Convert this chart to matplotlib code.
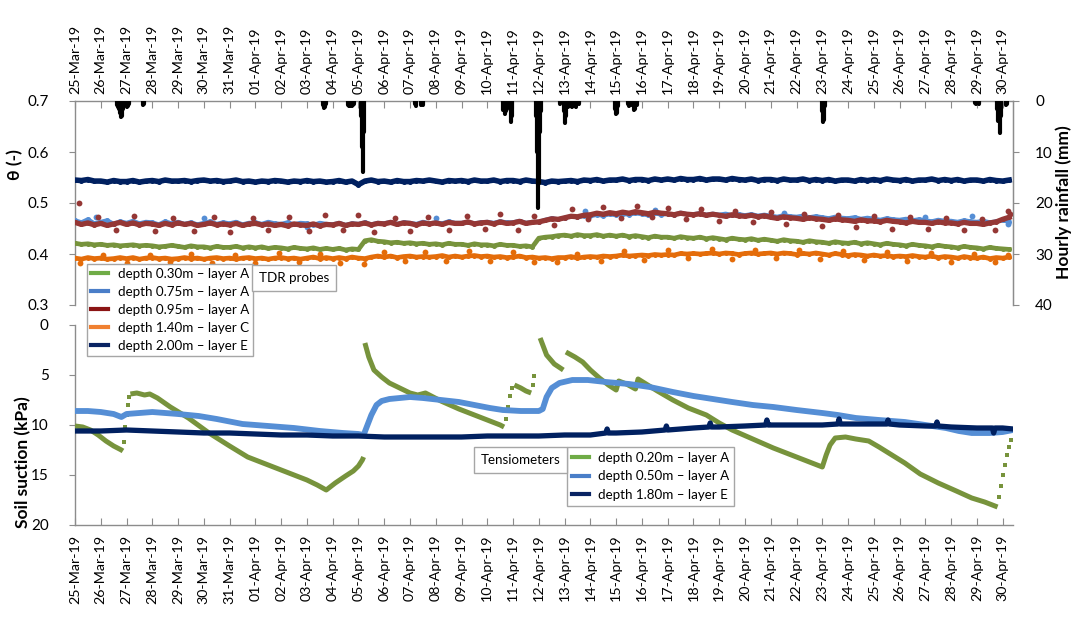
import matplotlib
matplotlib.use('Agg')
import matplotlib.pyplot as plt
import matplotlib.dates as mdates
from matplotlib.lines import Line2D
import numpy as np
import datetime as dt

plt.rcParams['font.family'] = ['Lato', 'DejaVu Sans']

# ---------------- data ----------------
start_date = dt.datetime(2019, 3, 25)
# TDR volumetric water content, 6-hourly readings (days since 25-Mar-19 = 0, 0.25, ...)
theta_200 = [0.545,0.544,0.546,0.543, 0.543,0.541,0.544,0.542, 0.542,0.544,0.541,0.543, 0.544,0.542,0.545,0.543,
             0.543,0.544,0.542,0.544, 0.545,0.543,0.544,0.542, 0.543,0.545,0.542,0.543, 0.541,0.543,0.542,0.544,
             0.543,0.541,0.543,0.542, 0.544,0.542,0.543,0.541, 0.542,0.544,0.541,0.543, 0.536,0.543,0.545,0.542,
             0.543,0.541,0.544,0.542, 0.542,0.544,0.543,0.545, 0.543,0.541,0.544,0.543, 0.544,0.542,0.545,0.543,
             0.543,0.545,0.542,0.544, 0.544,0.542,0.545,0.543, 0.542,0.540,0.543,0.542, 0.543,0.544,0.542,0.545,
             0.544,0.546,0.543,0.545, 0.545,0.547,0.544,0.546, 0.546,0.544,0.547,0.545, 0.547,0.545,0.548,0.546,
             0.546,0.548,0.545,0.547, 0.547,0.545,0.548,0.546, 0.545,0.547,0.544,0.546, 0.546,0.544,0.547,0.545,
             0.545,0.547,0.544,0.546, 0.544,0.546,0.543,0.545, 0.545,0.543,0.546,0.544, 0.546,0.544,0.547,0.545,
             0.544,0.546,0.543,0.545, 0.545,0.547,0.544,0.546, 0.544,0.546,0.543,0.545, 0.545,0.543,0.546,0.544,
             0.543,0.545]
theta_075 = [0.466,0.462,0.468,0.460, 0.463,0.466,0.459,0.464, 0.461,0.465,0.460,0.463, 0.462,0.458,0.464,0.460,
             0.463,0.459,0.462,0.458, 0.461,0.464,0.459,0.462, 0.460,0.463,0.458,0.461, 0.462,0.459,0.463,0.460,
             0.459,0.462,0.458,0.461, 0.460,0.457,0.461,0.459, 0.458,0.461,0.457,0.460, 0.459,0.462,0.458,0.461,
             0.460,0.463,0.459,0.462, 0.461,0.459,0.463,0.460, 0.462,0.460,0.464,0.461, 0.461,0.463,0.460,0.462,
             0.463,0.461,0.464,0.462, 0.462,0.465,0.461,0.463, 0.463,0.467,0.470,0.468, 0.471,0.474,0.472,0.475,
             0.474,0.477,0.475,0.478, 0.476,0.479,0.477,0.480, 0.478,0.476,0.480,0.477, 0.479,0.477,0.481,0.478,
             0.478,0.480,0.477,0.479, 0.477,0.479,0.476,0.478, 0.476,0.478,0.475,0.477, 0.475,0.473,0.476,0.474,
             0.473,0.475,0.472,0.474, 0.472,0.470,0.473,0.471, 0.470,0.472,0.469,0.471, 0.469,0.467,0.470,0.468,
             0.467,0.469,0.466,0.468, 0.466,0.464,0.467,0.465, 0.465,0.463,0.466,0.464, 0.463,0.465,0.462,0.464,
             0.466,0.463]
theta_095 = [0.462,0.458,0.461,0.457, 0.460,0.456,0.459,0.462, 0.458,0.461,0.457,0.460, 0.459,0.456,0.460,0.457,
             0.461,0.458,0.460,0.456, 0.458,0.461,0.457,0.459, 0.457,0.460,0.456,0.459, 0.460,0.457,0.459,0.456,
             0.458,0.455,0.459,0.457, 0.456,0.459,0.455,0.458, 0.457,0.460,0.456,0.459, 0.458,0.461,0.457,0.460,
             0.459,0.462,0.458,0.461, 0.460,0.457,0.461,0.459, 0.461,0.458,0.462,0.460, 0.460,0.463,0.459,0.461,
             0.462,0.459,0.463,0.460, 0.461,0.464,0.460,0.462, 0.463,0.466,0.469,0.468, 0.471,0.474,0.473,0.476,
             0.477,0.480,0.478,0.481, 0.479,0.482,0.480,0.483, 0.481,0.479,0.482,0.480, 0.479,0.477,0.480,0.478,
             0.477,0.479,0.476,0.478, 0.476,0.474,0.477,0.475, 0.474,0.476,0.473,0.475, 0.472,0.470,0.473,0.471,
             0.470,0.468,0.471,0.469, 0.468,0.466,0.469,0.467, 0.466,0.464,0.467,0.465, 0.465,0.463,0.466,0.464,
             0.463,0.461,0.464,0.462, 0.462,0.460,0.463,0.461, 0.461,0.459,0.462,0.460, 0.460,0.458,0.461,0.463,
             0.468,0.472]
theta_030 = [0.421,0.419,0.420,0.418, 0.419,0.417,0.418,0.416, 0.417,0.418,0.416,0.417, 0.416,0.414,0.415,0.417,
             0.415,0.413,0.416,0.414, 0.414,0.412,0.415,0.413, 0.413,0.415,0.412,0.414, 0.412,0.414,0.411,0.413,
             0.412,0.410,0.413,0.411, 0.410,0.412,0.409,0.411, 0.409,0.411,0.408,0.410, 0.409,0.426,0.428,0.425,
             0.424,0.422,0.423,0.421, 0.422,0.420,0.421,0.419, 0.420,0.418,0.421,0.419, 0.419,0.417,0.420,0.418,
             0.418,0.416,0.419,0.417, 0.417,0.415,0.416,0.414, 0.431,0.433,0.434,0.436, 0.437,0.435,0.438,0.436,
             0.436,0.438,0.435,0.437, 0.435,0.437,0.434,0.436, 0.434,0.432,0.435,0.433, 0.433,0.431,0.434,0.432,
             0.431,0.433,0.430,0.432, 0.430,0.428,0.431,0.429, 0.428,0.430,0.427,0.429, 0.427,0.425,0.428,0.426,
             0.425,0.423,0.426,0.424, 0.423,0.421,0.424,0.422, 0.421,0.423,0.420,0.422, 0.420,0.418,0.421,0.419,
             0.418,0.416,0.419,0.417, 0.416,0.414,0.417,0.415, 0.414,0.412,0.415,0.413, 0.412,0.410,0.413,0.411,
             0.410,0.409]
theta_140 = [0.392,0.390,0.393,0.391, 0.392,0.390,0.391,0.393, 0.391,0.393,0.390,0.392, 0.393,0.391,0.392,0.390,
             0.391,0.393,0.391,0.392, 0.390,0.392,0.393,0.391, 0.392,0.390,0.392,0.393, 0.391,0.392,0.390,0.392,
             0.393,0.391,0.392,0.390, 0.392,0.394,0.391,0.393, 0.391,0.393,0.391,0.394, 0.392,0.391,0.394,0.396,
             0.394,0.396,0.393,0.395, 0.396,0.394,0.395,0.394, 0.395,0.397,0.394,0.396, 0.394,0.396,0.397,0.395,
             0.396,0.394,0.395,0.393, 0.394,0.396,0.393,0.394, 0.392,0.393,0.391,0.393, 0.393,0.395,0.392,0.394,
             0.395,0.394,0.396,0.395, 0.396,0.398,0.396,0.397, 0.398,0.397,0.399,0.398, 0.399,0.398,0.401,0.400,
             0.401,0.400,0.401,0.402, 0.400,0.402,0.401,0.399, 0.401,0.402,0.400,0.401, 0.402,0.400,0.402,0.401,
             0.399,0.401,0.400,0.402, 0.400,0.398,0.401,0.399, 0.397,0.399,0.398,0.396, 0.398,0.396,0.397,0.395,
             0.396,0.395,0.397,0.395, 0.394,0.396,0.393,0.395, 0.394,0.392,0.395,0.393, 0.392,0.394,0.391,0.393,
             0.392,0.394]
# individual readings standing apart from the main bands (days, theta)
theta_095_out_t = [0.15, 0.9, 1.6, 2.3, 3.1, 3.8, 4.6, 5.4, 6.0, 6.9, 7.5, 8.3, 9.1, 9.7, 10.4, 11.0, 11.6,
                   12.4, 13.0, 13.7, 14.5, 15.2, 15.9, 16.5, 17.2, 17.8, 18.6, 19.3, 19.9, 20.5, 21.2, 21.8,
                   22.4, 23.0, 23.7, 24.3, 25.0, 25.6, 26.3, 27.0, 27.6, 28.3, 29.0, 29.6, 30.3, 31.0, 31.7,
                   32.4, 33.1, 33.8, 34.5, 35.2, 35.7, 36.2, 36.3]
theta_095_out = [0.500, 0.472, 0.447, 0.474, 0.445, 0.471, 0.446, 0.473, 0.444, 0.470, 0.447, 0.472, 0.445,
                 0.476, 0.448, 0.477, 0.444, 0.471, 0.446, 0.473, 0.447, 0.475, 0.449, 0.478, 0.448, 0.474,
                 0.456, 0.488, 0.468, 0.493, 0.470, 0.494, 0.472, 0.490, 0.468, 0.488, 0.465, 0.484, 0.462,
                 0.482, 0.458, 0.478, 0.455, 0.476, 0.452, 0.474, 0.450, 0.472, 0.449, 0.470, 0.448, 0.469,
                 0.447, 0.485, 0.478]
theta_140_out_t = [0.2, 1.1, 2.0, 2.9, 3.7, 4.5, 5.3, 6.2, 7.0, 7.9, 8.7, 9.5, 10.3, 11.2, 12.0, 12.8, 13.6,
                   14.4, 15.3, 16.1, 17.0, 17.8, 18.7, 19.5, 20.4, 21.3, 22.1, 23.0, 23.8, 24.7, 25.5, 26.4,
                   27.2, 28.1, 28.9, 29.8, 30.6, 31.5, 32.3, 33.2, 34.0, 34.9, 35.7, 36.2]
theta_140_out = [0.382, 0.398, 0.383, 0.399, 0.384, 0.400, 0.383, 0.399, 0.382, 0.401, 0.384, 0.400, 0.383,
                 0.381, 0.403, 0.386, 0.404, 0.387, 0.405, 0.386, 0.403, 0.385, 0.385, 0.400, 0.387, 0.405,
                 0.389, 0.407, 0.392, 0.409, 0.390, 0.408, 0.392, 0.408, 0.391, 0.406, 0.389, 0.404, 0.386,
                 0.402, 0.385, 0.400, 0.385, 0.399]
theta_075_out_t = [0.8, 5.0, 9.0, 14.0, 19.8, 22.5, 27.5, 33.0, 34.8, 36.2]
theta_075_out = [0.472, 0.471, 0.452, 0.470, 0.484, 0.486, 0.480, 0.472, 0.474, 0.458]

# Hourly rainfall (days since start, mm)
rain_t = [1.63, 1.67, 1.71, 1.75, 1.79, 1.83, 1.88, 1.92, 1.96, 2.00, 2.04, 2.08, 2.62, 2.67,
          9.62, 9.67, 9.71, 9.75,
          10.58, 10.62, 10.67, 10.71, 10.75, 10.79, 10.83, 11.08, 11.12, 11.17, 11.21,
          13.21, 13.25, 13.42, 13.46, 13.50,
          16.62, 16.67, 16.71, 16.88, 16.92, 16.96,
          17.88, 17.92, 17.96, 18.00, 18.04, 18.08,
          18.83, 18.96, 19.00, 19.04, 19.12, 19.21, 19.29, 19.38, 19.46, 19.54,
          20.96, 21.00, 21.04, 21.08, 21.46, 21.50, 21.58, 21.71, 21.75, 21.79,
          29.00, 29.04, 29.08, 29.12,
          34.92, 34.96, 35.04, 35.08,
          35.79, 35.83, 35.88, 35.92, 36.12, 36.17]
rain_mm = [0.8, 1.2, 1.5, 2.4, 3.2, 3.0, 1.6, 1.0, 0.8, 1.2, 1.0, 0.6, 0.8, 0.6,
           0.8, 1.4, 1.2, 0.6,
           0.8, 1.0, 0.9, 0.7, 1.0, 0.8, 0.6, 3.0, 9.0, 14.0, 6.0,
           0.6, 0.9, 0.7, 0.5, 0.8,
           1.8, 2.5, 2.0, 1.5, 4.1, 3.0,
           3.0, 10.0, 21.0, 16.0, 6.0, 2.0,
           0.5, 2.0, 4.4, 3.0, 1.2, 1.0, 1.2, 0.9, 1.1, 0.6,
           1.5, 2.6, 2.4, 1.0, 0.6, 0.9, 0.7, 1.8, 1.5, 0.8,
           2.0, 4.1, 3.8, 1.0,
           0.4, 0.6, 0.4, 0.5,
           1.5, 4.0, 6.3, 3.0, 0.8, 0.5]

nan = float('nan')
# Tensiometer 0.20 m (days, kPa); nan = gap in record
suc020_t = [0.0, 0.3, 0.6, 0.9, 1.2, 1.5, 1.8, 1.86, nan,
            2.15, 2.4, 2.7, 2.9, 3.2, 3.7, 4.4, 5.2, 6.0, 6.7, 7.3, 7.8, 8.4, 9.0, 9.4, 9.75,
            10.1, 10.5, 10.8, 11.0, 11.15, 11.2, nan,
            11.25, 11.4, 11.6, 11.9, 12.2, 12.6, 13.0, 13.3, 13.6, 14.2, 14.9, 15.5, 16.1, 16.5, 16.65, nan,
            17.05, 17.3, 17.5, 17.7, nan,
            18.05, 18.3, 18.6, 18.95, nan,
            19.05, 19.4, 19.7, 20.0, 20.35, 20.7, 21.0, 21.1, 21.4, 21.75, 21.85, 22.1, 22.6, 23.2, 23.8,
            24.5, 25.0, 25.5, 26.3, 27.1, 28.0, 28.6, 29.0, 29.15, 29.3, 29.5, 29.9, 30.3, 30.8, 31.2,
            31.7, 32.2, 32.8, 33.5, 34.2, 34.8, 35.3, 35.8]
suc020_s = [10.1, 10.2, 10.5, 11.0, 11.6, 12.1, 12.5, 12.6, nan,
            6.9, 6.8, 7.0, 6.9, 7.3, 8.2, 9.3, 10.8, 12.1, 13.2, 13.8, 14.3, 14.9, 15.5, 16.0, 16.5,
            15.8, 15.1, 14.6, 14.1, 13.5, 13.2, nan,
            1.8, 3.2, 4.5, 5.2, 5.8, 6.3, 6.8, 7.0, 6.8, 7.6, 8.4, 9.0, 9.6, 10.0, 10.2, nan,
            6.0, 6.3, 6.6, 6.8, nan,
            1.3, 3.0, 3.9, 4.5, nan,
            2.7, 3.2, 3.7, 4.5, 5.3, 6.0, 6.5, 5.6, 5.9, 6.4, 5.4, 5.8, 6.6, 7.5, 8.3,
            9.0, 9.8, 10.5, 11.4, 12.3, 13.2, 13.8, 14.2, 13.0, 12.0, 11.3, 11.2, 11.4, 11.6, 12.2,
            13.0, 13.8, 14.9, 15.8, 16.6, 17.3, 17.7, 18.2]
# rapid recoveries recorded as sparse dots
suc020_rise_t = [1.90, 1.95, 2.00, 2.05, 2.10, nan, 16.72, 16.80, 16.88, 16.96, nan,
                 17.76, 17.82, nan, 35.86, 35.94, 36.02, 36.10, 36.18, 36.26, 36.34]
suc020_rise_s = [11.7, 10.2, 9.0, 8.0, 7.2, nan, 9.4, 8.2, 7.1, 6.3, nan,
                 6.0, 5.1, nan, 17.2, 16.1, 15.0, 14.0, 13.0, 12.2, 11.5]

suc050_t = [0.0, 0.5, 1.0, 1.5, 1.8, 2.0, 2.5, 3.0, 3.5, 4.0, 4.8, 5.5, 6.5, 7.5, 8.5, 9.5, 10.4, 11.0,
            11.2, 11.35, 11.5, 11.7, 11.9, 12.2, 12.6, 13.0, 13.5, 14.2, 14.9, 15.5, 16.1, 16.6, 17.3,
            18.0, 18.15, 18.3, 18.5, 18.8, 19.3, 19.9, 20.6, 21.5, 22.3, 23.2, 24.0, 24.5, 25.5, 26.3,
            27.1, 28.0, 29.0, 29.6, 30.3, 31.2, 32.2, 33.0, 33.8, 34.3, 34.8, 35.5, 36.0, 36.4]
suc050_s = [8.6, 8.6, 8.7, 8.9, 9.2, 8.9, 8.8, 8.7, 8.8, 8.9, 9.1, 9.4, 9.9, 10.1, 10.3, 10.6, 10.8, 10.9,
            11.0, 10.0, 9.0, 8.0, 7.6, 7.4, 7.3, 7.2, 7.3, 7.5, 7.7, 8.0, 8.3, 8.5, 8.6,
            8.6, 8.4, 7.2, 6.3, 5.8, 5.5, 5.5, 5.7, 5.9, 6.2, 6.7, 7.1, 7.3, 7.7, 8.0,
            8.2, 8.5, 8.8, 9.0, 9.3, 9.5, 9.7, 10.0, 10.3, 10.6, 10.8, 10.8, 10.7, 10.5]

suc180_t = [0.0, 1.0, 2.0, 3.0, 4.0, 5.0, 6.0, 7.0, 8.0, 9.0, 10.0, 11.0, 12.0, 13.0, 14.0, 15.0,
            16.0, 17.0, 18.0, 19.0, 20.0, 20.6, 20.65, 20.7, 21.0, 22.0, 22.9, 22.95, 23.0, 24.0,
            24.6, 24.65, 24.7, 25.0, 26.0, 26.8, 26.85, 26.9, 27.0, 28.0, 29.0, 29.6, 29.65, 29.7,
            30.0, 31.0, 31.5, 31.55, 31.6, 32.0, 33.0, 33.4, 33.45, 33.5, 34.0, 35.0, 35.6, 35.65,
            35.7, 36.0, 36.4]
suc180_s = [10.6, 10.6, 10.5, 10.6, 10.7, 10.8, 10.8, 10.9, 11.0, 11.0, 11.1, 11.1, 11.2, 11.2, 11.2, 11.2,
            11.1, 11.1, 11.1, 11.0, 11.0, 10.8, 10.4, 10.8, 10.8, 10.7, 10.5, 10.1, 10.5, 10.3,
            10.2, 9.8, 10.2, 10.2, 10.1, 10.0, 9.5, 10.0, 10.0, 10.0, 10.0, 9.9, 9.4, 9.9,
            9.9, 9.9, 9.9, 9.5, 9.9, 10.0, 10.1, 10.1, 9.7, 10.1, 10.2, 10.3, 10.3, 10.8,
            10.3, 10.3, 10.4]

# series styling
c_030, c_075, c_095, c_140, c_200 = '#77933C', '#558ED5', '#953735', '#E46C0A', '#002060'
leg_top_labels = ['depth 0.30m \u2013 layer A', 'depth 0.75m \u2013 layer A', 'depth 0.95m \u2013 layer A',
                  'depth 1.40m \u2013 layer C', 'depth 2.00m \u2013 layer E']
leg_top_colors = ['#6FAC46', '#4A7EC8', '#8B1414', '#F08030', '#0A2463']
leg_bot_labels = ['depth 0.20m \u2013 layer A', 'depth 0.50m \u2013 layer A', 'depth 1.80m \u2013 layer E']
leg_bot_colors = ['#6FAC46', '#4A7EC8', '#0A2463']

# ---------------- figure ----------------
W, H = 1075, 621
fig = plt.figure(figsize=(W / 100, H / 100), dpi=100)
x0 = mdates.date2num(start_date)
theta_t = x0 + np.arange(len(theta_200)) * 0.25

def fx(px):
    return px / W

def fy(py):
    return 1 - py / H

L, R = 75, 1013
ax1 = fig.add_axes([fx(L), fy(305), fx(R - L), (305 - 101) / H])
ax3 = fig.add_axes([fx(L), fy(525), fx(R - L), (525 - 325) / H])
spc = '#8C8C8C'
ytick_fs = 11
xtick_fs = 10.3

# orange, green, blue, red, navy bands (line through readings + dots)
band_specs = [(theta_140, c_140, 3.4, 3), (theta_030, c_030, 3.4, 4), (theta_075, c_075, 3.0, 5),
              (theta_095, c_095, 3.8, 6), (theta_200, c_200, 4.0, 7)]
for ser, col, lw, zo in band_specs:
    ax1.plot(theta_t, ser, color=col, lw=lw, marker='o', ms=3.6, mew=0, zorder=zo)
for tt, vv, col, zo in [(theta_140_out_t, theta_140_out, c_140, 3), (theta_075_out_t, theta_075_out, c_075, 5),
                        (theta_095_out_t, theta_095_out, c_095, 6)]:
    ax1.plot(x0 + np.array(tt), vv, color=col, lw=0, marker='o', ms=4.2, mew=0, zorder=zo)

ax1.set_ylim(0.3, 0.7)
ax1.set_yticks([0.3, 0.4, 0.5, 0.6, 0.7])
ax1.set_yticklabels(['0.3', '0.4', '0.5', '0.6', '0.7'])
xmin, xmax = x0, x0 + 36.4
ax1.xaxis.tick_top()
for ax in (ax1, ax3):
    ax.xaxis.set_major_locator(mdates.DayLocator())
    ax.xaxis.set_major_formatter(mdates.DateFormatter('%d-%b-%y'))
    ax.set_xlim(xmin, xmax)
    for s in ax.spines.values():
        s.set_color(spc)
        s.set_linewidth(1.0)
ax1.tick_params(axis='x', which='both', direction='in', length=5, color=spc, top=True, bottom=False,
                labeltop=True, labelbottom=False, labelrotation=90, labelsize=xtick_fs, pad=5)
ax1.tick_params(axis='y', direction='out', length=4, color=spc, labelsize=ytick_fs, pad=15)
ax1.spines['bottom'].set_visible(False)

ax2 = ax1.twinx()
rain_x = x0 + np.array(rain_t)
ax2.vlines(rain_x, 0, rain_mm, color='black', lw=3.0, capstyle='round')
ax2.set_ylim(40, 0)
ax2.set_yticks([0, 10, 20, 30, 40])
ax2.tick_params(axis='y', direction='out', length=4, color=spc, labelsize=ytick_fs, pad=12)
for k in ['top', 'bottom', 'left']:
    ax2.spines[k].set_visible(False)
ax2.spines['right'].set_color(spc)
ax2.set_xlim(xmin, xmax)

# bottom panel
ax3.plot(x0 + np.array(suc020_t), suc020_s, color=c_030, lw=3.6, solid_capstyle='butt', zorder=3)
ax3.plot(x0 + np.array(suc020_rise_t), suc020_rise_s, color=c_030, lw=0, marker='s', ms=3.2, mew=0, zorder=3)
ax3.plot(x0 + np.array(suc050_t), suc050_s, color=c_075, lw=4.2, zorder=4)
ax3.plot(x0 + np.array(suc180_t), suc180_s, color=c_200, lw=3.8, zorder=5)
ax3.set_ylim(20, 0)
ax3.set_yticks([0, 5, 10, 15, 20])
ax3.tick_params(axis='x', which='both', direction='in', length=5, color=spc, labelrotation=90,
                labelsize=xtick_fs, pad=7)
ax3.tick_params(axis='y', direction='out', length=4, color=spc, labelsize=ytick_fs, pad=15)
ax3.spines['top'].set_visible(False)
ax3.spines['right'].set_visible(False)
ax3.patch.set_visible(False)

# axis titles
lab_fs = 12.5
fig.text(fx(15), fy(165), '\u03b8 (-)', rotation=90, ha='center', va='center', fontsize=lab_fs, fontweight='bold')
fig.text(fx(23), fy(462), 'Soil suction (kPa)', rotation=90, ha='center', va='center', fontsize=lab_fs, fontweight='bold')
fig.text(fx(1064), fy(202), 'Hourly rainfall (mm)', rotation=90, ha='center', va='center', fontsize=lab_fs, fontweight='bold')

# legends
leg_fs = 9.6
h_top = [Line2D([], [], color=c, lw=3) for c in leg_top_colors]
lg1 = fig.legend(h_top, leg_top_labels, loc='upper left', bbox_to_anchor=(fx(87), fy(264)),
                 bbox_transform=fig.transFigure, borderaxespad=0, fancybox=False, framealpha=1,
                 edgecolor='#A6A6A6', fontsize=leg_fs, handlelength=1.3, handletextpad=0.7,
                 labelspacing=0.45, borderpad=0.3)
lg1.get_frame().set_linewidth(1.0)
h_bot = [Line2D([], [], color=c, lw=3) for c in leg_bot_colors]
lg2 = fig.legend(h_bot, leg_bot_labels, loc='upper left', bbox_to_anchor=(fx(567), fy(447)),
                 bbox_transform=fig.transFigure, borderaxespad=0, fancybox=False, framealpha=1,
                 edgecolor='#A6A6A6', fontsize=leg_fs, handlelength=1.3, handletextpad=0.7,
                 labelspacing=0.5, borderpad=0.35)
lg2.get_frame().set_linewidth(1.0)

fig.text(fx(259), fy(278), 'TDR probes', ha='left', va='center', fontsize=leg_fs,
         bbox=dict(boxstyle='square,pad=0.5', fc='white', ec='#A6A6A6', lw=1.0), zorder=10)
fig.text(fx(481), fy(460), 'Tensiometers', ha='left', va='center', fontsize=leg_fs,
         bbox=dict(boxstyle='square,pad=0.5', fc='white', ec='#A6A6A6', lw=1.0), zorder=10)

fig.savefig('out.png', dpi=100)
